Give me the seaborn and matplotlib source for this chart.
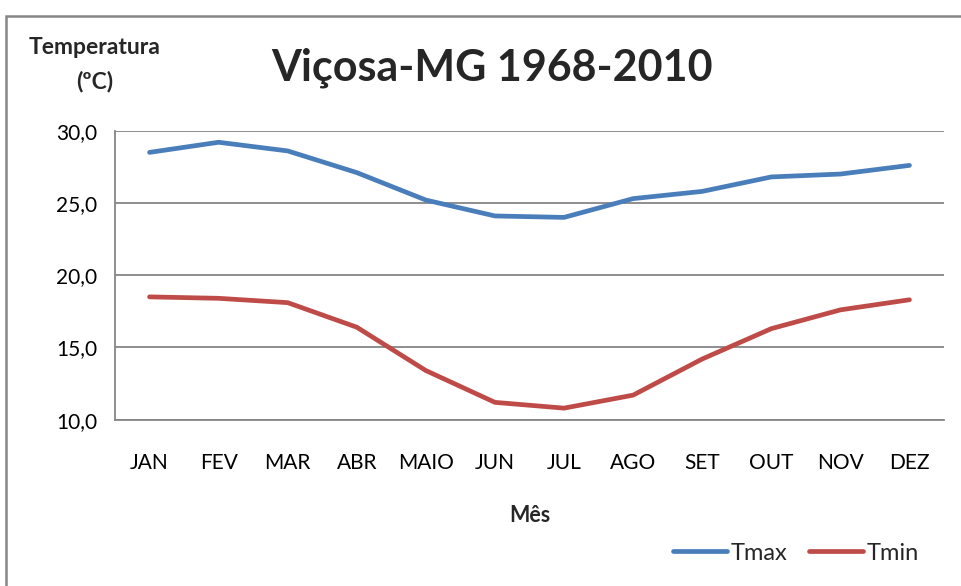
import matplotlib
matplotlib.use("Agg")
import matplotlib.pyplot as plt
import seaborn as sns
import pandas as pd
from matplotlib.patches import Rectangle

meses = ["JAN", "FEV", "MAR", "ABR", "MAIO", "JUN", "JUL", "AGO", "SET", "OUT", "NOV", "DEZ"]
tmax = [28.5, 29.2, 28.6, 27.1, 25.2, 24.1, 24.0, 25.3, 25.8, 26.8, 27.0, 27.6]
tmin = [18.5, 18.4, 18.1, 16.4, 13.4, 11.2, 10.8, 11.7, 14.2, 16.3, 17.6, 18.3]
series = ["Tmax", "Tmin"]
yticks = [10.0, 15.0, 20.0, 25.0, 30.0]

df = pd.DataFrame({
    "Mês": meses * 2,
    "pos": list(range(len(meses))) * 2,
    "Temperatura": tmax + tmin,
    "Série": [series[0]] * len(meses) + [series[1]] * len(meses),
})

sns.set_theme(style="white")
plt.rcParams["font.family"] = ["Lato", "DejaVu Sans"]

fig = plt.figure(figsize=(9.61, 5.86), dpi=100)
W, H = 961, 586
ax = fig.add_axes([115 / W, 1 - 419.7 / H, (944 - 115) / W, (419.7 - 130.7) / H])

palette = {"Tmax": "#4A7EBB", "Tmin": "#BE4B48"}
sns.lineplot(data=df, x="pos", y="Temperatura", hue="Série", palette=palette,
             linewidth=3.4, ax=ax, sort=False, legend=True)
for ln in ax.get_lines():
    ln.set_solid_capstyle("round")
    ln.set_solid_joinstyle("round")

ax.set_xlim(-0.5, len(meses) - 0.5)
ax.set_ylim(10, 30)
ax.set_yticks(yticks)
ax.set_yticklabels([f"{v:.1f}".replace(".", ",") for v in yticks], fontsize=15)
ax.set_xticks(range(len(meses)))
ax.set_xticklabels(meses, fontsize=15)
ax.set_xticks([i - 0.5 for i in range(len(meses) + 1)], minor=True)
ax.tick_params(axis="x", which="major", length=0, pad=24, colors="black")
ax.tick_params(axis="x", which="minor", length=6, width=1.3, color="#868686", direction="out")
ax.tick_params(axis="y", which="major", length=7, width=1.3, color="#868686", pad=6)
for lbl in ax.get_yticklabels() + ax.get_xticklabels():
    lbl.set_color("black")

ax.grid(axis="y", color="#868686", linewidth=1.3)
ax.set_axisbelow(True)
for s in ["top", "right"]:
    ax.spines[s].set_visible(False)
for s in ["left", "bottom"]:
    ax.spines[s].set_color("#868686")
    ax.spines[s].set_linewidth(1.3)

ax.set_xlabel("")
ax.set_ylabel("")

handles, labels = ax.get_legend_handles_labels()
ax.get_legend().remove()
fig.legend(handles, labels, loc="center", bbox_to_anchor=(796 / W, 1 - 553 / H),
           ncol=2, frameon=False, fontsize=17, handlelength=2.3, handletextpad=0.15,
           columnspacing=0.9)

fig.text(530 / W, 1 - 515 / H, "Mês", ha="center", va="center", fontsize=15.5, fontweight="bold")
fig.text(95 / W, 1 - 48 / H, "Temperatura", ha="center", va="center", fontsize=16.5, fontweight="bold")
fig.text(95 / W, 1 - 82 / H, "(ºC)", ha="center", va="center", fontsize=16.5, fontweight="bold")
fig.text(492 / W, 1 - 68 / H, "Viçosa-MG 1968-2010", ha="center", va="center", fontsize=31, fontweight="bold")

fig.patches.append(Rectangle((5.5 / W, -0.1), 1.2, 1 - 15.5 / H + 0.1, transform=fig.transFigure,
                             fill=False, edgecolor="#868686", linewidth=1.8))

fig.savefig("out.png", dpi=100)
